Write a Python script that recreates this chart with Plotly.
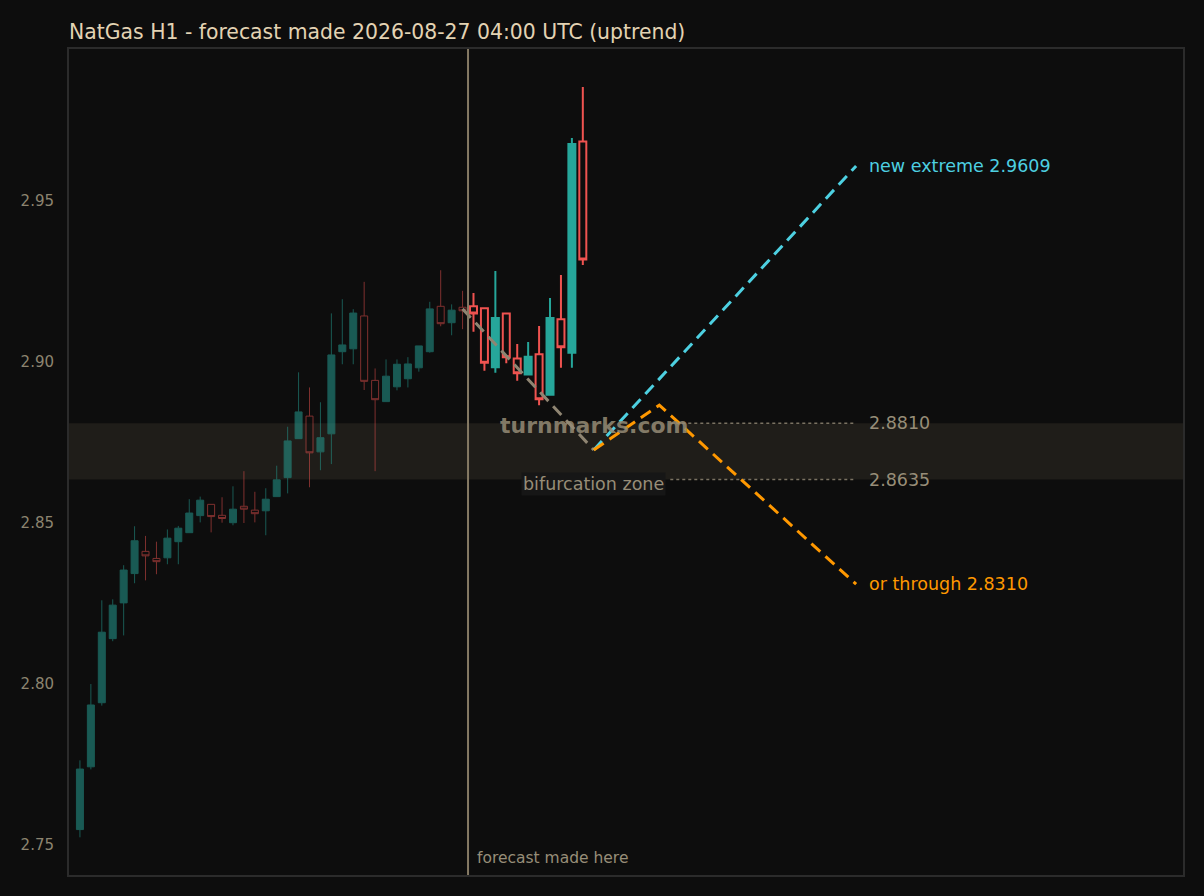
import plotly.graph_objects as go

# candle index 0..46, forecast made between 35 and 36
opens = [2.7548, 2.7743, 2.7942, 2.8141, 2.8252, 2.8343, 2.8412, 2.8390, 2.8392, 2.8442,
         2.8470, 2.8523, 2.8558, 2.8524, 2.8501, 2.8552, 2.8540, 2.8538, 2.8582, 2.8641,
         2.8762, 2.8832, 2.8721, 2.8777, 2.9032, 2.9041, 2.9143, 2.8943, 2.8877, 2.8923,
         2.8948, 2.8982, 2.9032, 2.9173, 2.9122, 2.9170,
         2.9173, 2.9167, 2.8984, 2.9151, 2.9011, 2.8961, 2.9024, 2.8898, 2.9133, 2.9029, 2.9685]
highs = [2.7763, 2.8000, 2.8260, 2.8263, 2.8369, 2.8490, 2.8460, 2.8442, 2.8480, 2.8491,
         2.8574, 2.8582, 2.8558, 2.8580, 2.8614, 2.8661, 2.8597, 2.8608, 2.8678, 2.8799,
         2.8968, 2.8921, 2.8875, 2.9151, 2.9195, 2.9164, 2.9249, 2.8980, 2.9008, 2.9008,
         2.9015, 2.9050, 2.9187, 2.9285, 2.9179, 2.9221,
         2.9214, 2.9167, 2.9283, 2.9151, 2.9056, 2.9062, 2.9112, 2.9199, 2.9270, 2.9696, 2.9854]
lows = [2.7524, 2.7735, 2.7933, 2.8133, 2.8151, 2.8313, 2.8322, 2.8341, 2.8372, 2.8372,
        2.8470, 2.8502, 2.8471, 2.8501, 2.8493, 2.8500, 2.8502, 2.8462, 2.8582, 2.8592,
        2.8762, 2.8611, 2.8664, 2.8683, 2.8993, 2.8993, 2.8913, 2.8661, 2.8877, 2.8912,
        2.8921, 2.8970, 2.9029, 2.9111, 2.9083, 2.9102,
        2.9094, 2.8973, 2.8967, 2.8996, 2.8942, 2.8961, 2.8866, 2.8898, 2.8982, 2.8982, 2.9301]
closes = [2.7736, 2.7935, 2.8161, 2.8245, 2.8354, 2.8445, 2.8398, 2.8380, 2.8453, 2.8484,
          2.8531, 2.8571, 2.8520, 2.8514, 2.8543, 2.8543, 2.8529, 2.8574, 2.8634, 2.8755,
          2.8845, 2.8718, 2.8765, 2.9022, 2.9053, 2.9152, 2.8940, 2.8883, 2.8956, 2.8993,
          2.8994, 2.9050, 2.9165, 2.9119, 2.9161, 2.9159,
          2.9151, 2.8998, 2.9137, 2.9015, 2.8965, 2.9016, 2.8884, 2.9137, 2.9046, 2.9677, 2.9318]
n_past = 36
forecast_x = 35.5

# forecast path
path_x = [35, 47]
path_y = [2.9165, 2.8727]
up_x = [47, 71]
up_y = [2.8727, 2.9609]
down_x = [47, 53, 71]
down_y = [2.8727, 2.8866, 2.8310]
zone_hi = 2.8810
zone_lo = 2.8635
zone_x = [54, 71]

bg = '#0d0d0d'
teal = '#26a69a'
red = '#ef5350'
muted = '#978d78'

idx = list(range(len(opens)))

fig = go.Figure()

fig.add_hrect(y0=zone_lo, y1=zone_hi, fillcolor='#1f1d19', line_width=0, layer='below')

fig.add_trace(go.Candlestick(
    x=idx[:n_past], open=opens[:n_past], high=highs[:n_past], low=lows[:n_past], close=closes[:n_past],
    increasing=dict(line=dict(color=teal, width=1), fillcolor=teal),
    decreasing=dict(line=dict(color=red, width=1), fillcolor=bg),
    opacity=0.5, showlegend=False))
fig.add_trace(go.Candlestick(
    x=idx[n_past:], open=opens[n_past:], high=highs[n_past:], low=lows[n_past:], close=closes[n_past:],
    increasing=dict(line=dict(color=teal, width=2), fillcolor=teal),
    decreasing=dict(line=dict(color=red, width=2), fillcolor=bg),
    showlegend=False))

for y in [zone_hi, zone_lo]:
    fig.add_trace(go.Scatter(x=zone_x, y=[y, y], mode='lines',
                             line=dict(color='#7a7262', width=1.5, dash='dot'),
                             showlegend=False, hoverinfo='skip'))

fig.add_trace(go.Scatter(x=path_x, y=path_y, mode='lines',
                         line=dict(color='#8f8572', width=3, dash='12px,7px'), showlegend=False))
fig.add_trace(go.Scatter(x=up_x, y=up_y, mode='lines',
                         line=dict(color='#4dd0e1', width=3, dash='12px,7px'), showlegend=False))
fig.add_trace(go.Scatter(x=down_x, y=down_y, mode='lines',
                         line=dict(color='#ff9800', width=3, dash='12px,7px'), showlegend=False))

fig.add_vline(x=forecast_x, line=dict(color='#857a64', width=2))

fig.add_annotation(x=72, y=up_y[-1], text='new extreme %.4f' % up_y[-1], xanchor='left',
                   showarrow=False, font=dict(color='#4dd0e1', size=17.5))
fig.add_annotation(x=72, y=down_y[-1], text='or through %.4f' % down_y[-1], xanchor='left',
                   showarrow=False, font=dict(color='#ff9800', size=17.5))
fig.add_annotation(x=72, y=zone_hi, text='%.4f' % zone_hi, xanchor='left',
                   showarrow=False, font=dict(color=muted, size=17.5))
fig.add_annotation(x=72, y=zone_lo, text='%.4f' % zone_lo, xanchor='left',
                   showarrow=False, font=dict(color=muted, size=17.5))
fig.add_annotation(x=47, y=2.8621, text='bifurcation zone', showarrow=False,
                   bgcolor='#161616', font=dict(color=muted, size=17.5))
fig.add_annotation(x=47, y=2.8804, text='<b>turnmarks.com</b>', showarrow=False,
                   font=dict(color='rgba(150,140,118,0.85)', size=22))
fig.add_annotation(x=forecast_x, y=0.021, yref='paper', yanchor='middle', xshift=7,
                   text='forecast made here', xanchor='left', showarrow=False,
                   font=dict(color=muted, size=15.5))

fig.update_layout(
    width=1204, height=896,
    paper_bgcolor=bg, plot_bgcolor=bg,
    font=dict(family='DejaVu Sans', color=muted),
    title=dict(text='NatGas H1 - forecast made 2026-08-27 04:00 UTC (uptrend)',
               x=69 / 1204, xanchor='left', y=1 - 32 / 896, yanchor='middle',
               font=dict(size=20.4, color='#e3d3b3')),
    margin=dict(l=69, r=21, t=49, b=21),
    boxgap=0.2, boxgroupgap=0.2,
    xaxis=dict(range=[-1.0, 100.9], showticklabels=False, showgrid=False, zeroline=False,
               rangeslider=dict(visible=False), showline=True, mirror=True,
               linecolor='#2b2b2b', linewidth=2, ticks=''),
    yaxis=dict(range=[2.7407, 2.9972], tickvals=[2.75, 2.80, 2.85, 2.90, 2.95],
               ticktext=['2.75', '2.80', '2.85', '2.90', '2.95'],
               showgrid=False, zeroline=False, showline=True, mirror=True,
               linecolor='#2b2b2b', linewidth=2, ticks='', ticklabelstandoff=10,
               tickfont=dict(size=15, color='#8c8470')),
)

# page margin off so the dark figure fills the window
fig.write_html("out.html", config={'displayModeBar': False},
               post_script="document.body.style.margin='0';document.body.style.background='#0d0d0d';")
